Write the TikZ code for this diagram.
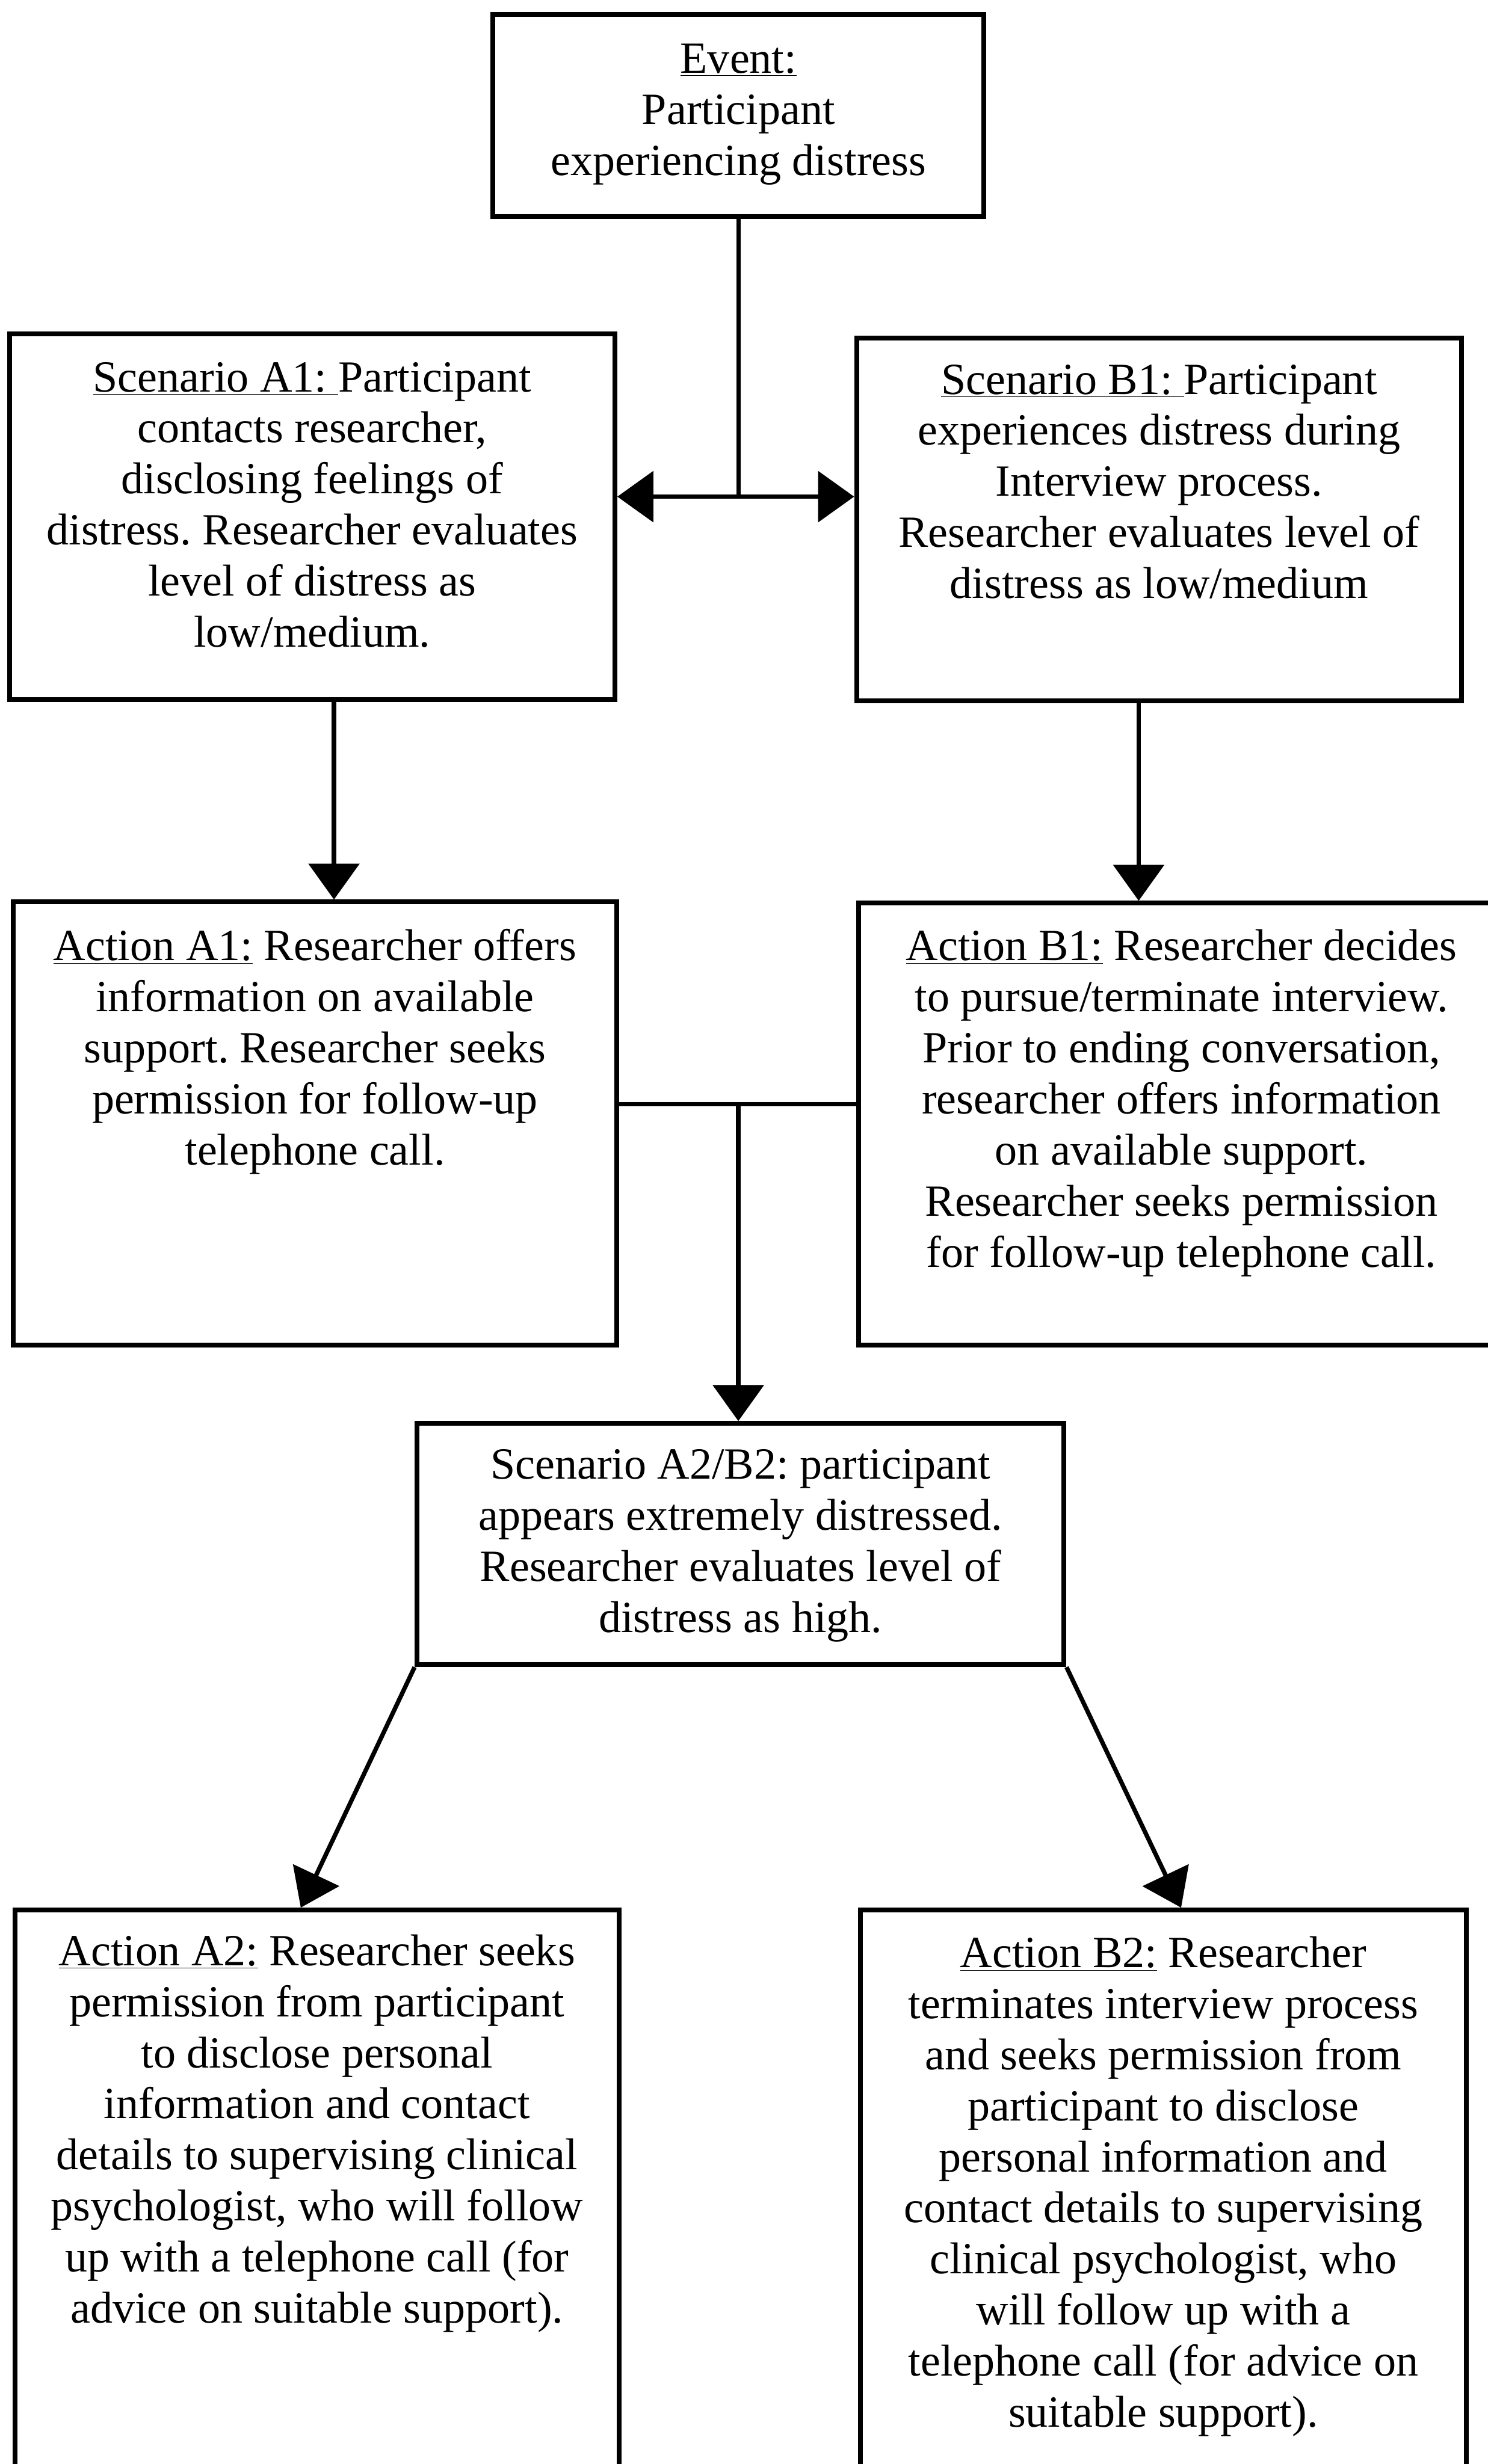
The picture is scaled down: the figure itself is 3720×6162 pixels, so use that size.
\documentclass[tikz,border=0pt]{standalone}
\usepackage{fontspec}
\setmainfont{Liberation Serif}
\usetikzlibrary{arrows.meta,calc}
\frenchspacing
\begin{document}
\begin{tikzpicture}[x=0.01cm,y=-0.01cm,
  box/.style={draw, line width=0.12cm, inner sep=0pt},
  txt/.style={anchor=north, inner sep=0pt, align=center, font=\fontsize{31.7}{36.3}\selectfont\frenchspacing},
  ln/.style={line width=0.11cm},
  arr/.style={line width=0.11cm, -{Triangle[length=0.9cm,width=1.26cm]}}]
\useasboundingbox (0,0) rectangle (3720,6162);
\clip (0,0) rectangle (3720,6162);
\fill[white] (0,0) rectangle (3720,6162);

% boxes
\node[box, minimum width=12.27cm, minimum height=5.06cm] (ev)  at (1846.5,289) {};
\node[box, minimum width=15.13cm, minimum height=9.15cm] (sa1) at (780.5,1292.5) {};
\node[box, minimum width=15.12cm, minimum height=9.08cm] (sb1) at (2898,1299) {};
\node[box, minimum width=15.09cm, minimum height=11.07cm] (aa1) at (787.5,2809.5) {};
\node[box, minimum width=16.14cm, minimum height=11.04cm] (ab1) at (2954,2811) {};
\node[box, minimum width=16.17cm, minimum height=6.03cm] (s2)  at (1851.5,3861.5) {};
\node[box, minimum width=15.09cm, minimum height=15.23cm] (aa2) at (792.5,5538.5) {};
\node[box, minimum width=15.13cm, minimum height=15.23cm] (ab2) at (2908.5,5538.5) {};

% texts
\node[txt] (tev) at (ev.north) {\rule{0pt}{1.52cm}\underline{Event:}\\Participant\\experiencing distress};
\node[txt] (tsa1) at (sa1.north) {\rule{0pt}{1.5cm}\underline{Scenario A1:\ }Participant\\contacts researcher,\\disclosing feelings of\\distress. Researcher evaluates\\level of distress as\\low/medium.};
\node[txt] (tsb1) at (sb1.north) {\rule{0pt}{1.46cm}\underline{Scenario B1:\ }Participant\\experiences distress during\\Interview process.\\Researcher evaluates level of\\distress as low/medium};
\node[txt] (taa1) at (aa1.north) {\rule{0pt}{1.52cm}\underline{Action A1:} Researcher offers\\information on available\\support. Researcher seeks\\permission for follow-up\\telephone call.};
\node[txt] (tab1) at (ab1.north) {\rule{0pt}{1.49cm}\underline{Action B1:} Researcher decides\\to pursue/terminate interview.\\Prior to ending conversation,\\researcher offers information\\on available support.\\Researcher seeks permission\\for follow-up telephone call.};
\node[txt] (ts2) at (s2.north) {\rule{0pt}{1.44cm}Scenario A2/B2: participant\\appears extremely distressed.\\Researcher evaluates level of\\distress as high.};
\node[txt] (taa2) at (aa2.north) {\rule{0pt}{1.44cm}\underline{Action A2:} Researcher seeks\\permission from participant\\to disclose personal\\information and contact\\details to supervising clinical\\psychologist, who will follow\\up with a telephone call (for\\advice on suitable support).};
\node[txt] (tab2) at (ab2.north) {\rule{0pt}{1.49cm}\underline{Action B2:} Researcher\\terminates interview process\\and seeks permission from\\participant to disclose\\personal information and\\contact details to supervising\\clinical psychologist, who\\will follow up with a\\telephone call (for advice on\\suitable support).};

% connectors
\coordinate (j1) at (1846.5,1242);
\draw[ln] (ev.south) -- (ev.south |- j1);
\draw[arr] (j1) -- (j1 -| sa1.east);
\draw[arr] (j1) -- (j1 -| sb1.west);

\draw[arr] ([xshift=0.545cm]sa1.south) -- ([xshift=0.545cm]sa1.south |- aa1.north);
\draw[arr] ([xshift=-0.51cm]sb1.south) -- ([xshift=-0.51cm]sb1.south |- ab1.north);

\coordinate (j2) at (1846,2761);
\draw[ln] (aa1.east |- j2) -- (ab1.west |- j2);
\draw[arr] (j2) -- (j2 |- s2.north);

\draw[arr] (s2.south west) -- ([xshift=-0.405cm]aa2.north);
\draw[arr] (s2.south east) -- ([xshift=0.445cm]ab2.north);
\end{tikzpicture}
\end{document}
